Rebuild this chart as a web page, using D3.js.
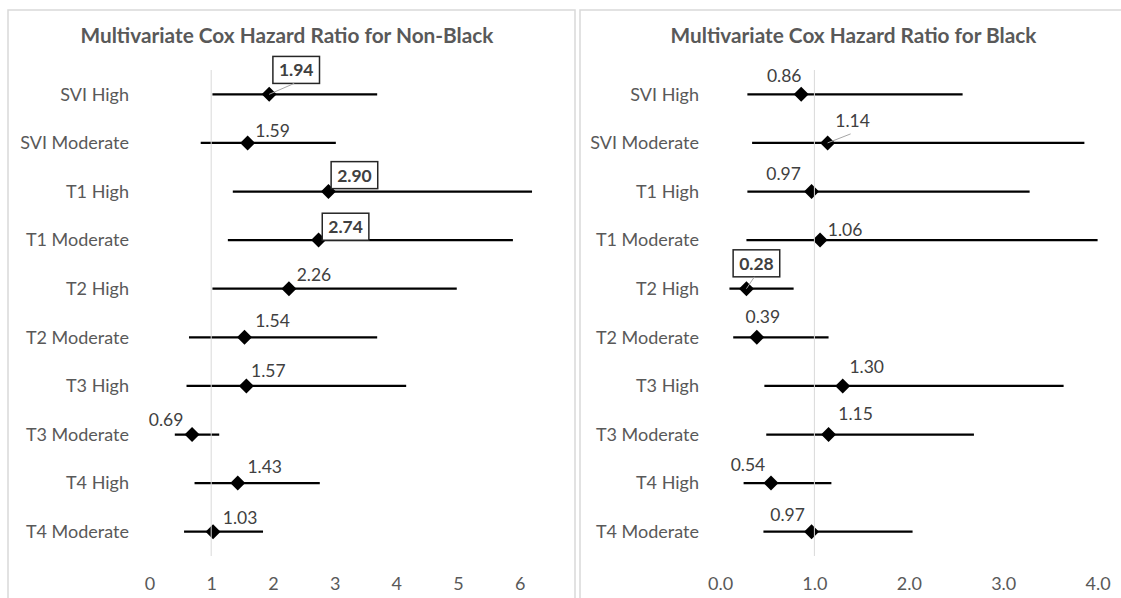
<!DOCTYPE html>
<html>
<head>
<meta charset="utf-8">
<script src="https://cdn.jsdelivr.net/npm/d3@7"></script>
<style>
  body { margin: 0; background: #fff; }
  svg { display: block; font-family: Lato, "Open Sans", sans-serif; }
</style>
</head>
<body>
<svg id="chart" width="1121" height="598"></svg>
<script>
// Categories (same for both panels, top to bottom)
const categories = ["SVI High", "SVI Moderate", "T1 High", "T1 Moderate", "T2 High",
  "T2 Moderate", "T3 High", "T3 Moderate", "T4 High", "T4 Moderate"];

// Non-Black: hazard ratio and 95% CI
const hrNonBlack = [1.94, 1.59, 2.90, 2.74, 2.26, 1.54, 1.57, 0.69, 1.43, 1.03];
const lowNonBlack = [1.02, 0.83, 1.35, 1.27, 1.02, 0.64, 0.60, 0.41, 0.73, 0.56];
const highNonBlack = [3.69, 3.02, 6.20, 5.89, 4.98, 3.69, 4.16, 1.13, 2.76, 1.84];
const sigNonBlack = [true, false, true, true, false, false, false, false, false, false];
const ticksNonBlack = [0, 1, 2, 3, 4, 5, 6];

// Black: hazard ratio and 95% CI
const hrBlack = [0.86, 1.14, 0.97, 1.06, 0.28, 0.39, 1.30, 1.15, 0.54, 0.97];
const lowBlack = [0.29, 0.34, 0.29, 0.28, 0.10, 0.14, 0.47, 0.49, 0.25, 0.46];
const highBlack = [2.57, 3.86, 3.28, 4.00, 0.78, 1.15, 3.64, 2.69, 1.18, 2.04];
const sigBlack = [false, false, false, false, true, false, false, false, false, false];
const ticksBlack = [0, 1, 2, 3, 4];

// where each data label sits relative to its marker: [dx, dy, leader line]
const nudgeNonBlack = [[27, -24, true], [25, -12], [26, -16], [27, -13], [25, -14],
  [28, -16], [22, -15], [-26, -15], [27, -16], [27, -14]];
const nudgeBlack = [[-17, -18], [25, -22, true], [-28, -18], [25, -10], [10, -25, true],
  [6, -20], [24, -19], [27, -21], [-23, -18], [-24, -17]];

const TEXT = "#595959";
const LABEL = "#404040";
const GRID = "#d9d9d9";
const dia = 7.5;

const svg = d3.select("#chart");

const drawPanel = p => {
  const g = svg.append("g");

  g.append("rect")
    .attr("x", p.box[0]).attr("y", p.box[1])
    .attr("width", p.box[2]).attr("height", p.box[3])
    .attr("fill", "#fff")
    .attr("stroke", GRID).attr("stroke-width", 1.5);

  g.append("text")
    .attr("x", p.titleX).attr("y", 36).attr("dy", "0.35em")
    .attr("text-anchor", "middle")
    .style("font-size", "20.8px").style("font-weight", "bold")
    .style("fill", TEXT)
    .text(p.title);

  const x = d3.scaleLinear().domain(p.domain).range(p.range);
  const y = d3.scaleBand().domain(categories).range([70, 556]);
  const cy = c => y(c) + y.bandwidth() / 2;

  const rows = categories.map((c, i) => ({
    cat: c, hr: p.hr[i], lo: p.lo[i], hi: p.hi[i], sig: p.sig[i], nudge: p.nudge[i]
  }));

  // category labels
  g.selectAll(".cat")
    .data(rows)
    .join("text")
    .attr("x", p.labelRight)
    .attr("y", d => cy(d.cat)).attr("dy", "0.35em")
    .attr("text-anchor", "end")
    .style("font-size", "18px").style("fill", TEXT)
    .text(d => d.cat);

  // x axis
  const axis = g.append("g")
    .attr("transform", "translate(0,570)")
    .call(d3.axisBottom(x).tickValues(p.ticks).tickSize(0).tickPadding(7).tickFormat(p.fmt));
  axis.select(".domain").remove();
  axis.selectAll(".tick text")
    .style("font-size", "18px").style("fill", TEXT)
    .style("font-family", "Lato, 'Open Sans', sans-serif");

  // confidence intervals
  g.selectAll(".ci")
    .data(rows)
    .join("line")
    .attr("x1", d => x(d.lo)).attr("x2", d => x(d.hi))
    .attr("y1", d => cy(d.cat)).attr("y2", d => cy(d.cat))
    .attr("stroke", "#000").attr("stroke-width", 2.25);

  // markers
  g.selectAll(".pt")
    .data(rows)
    .join("path")
    .attr("d", `M0,${-dia}L${dia},0L0,${dia}L${-dia},0Z`)
    .attr("transform", d => `translate(${x(d.hr)},${cy(d.cat)})`)
    .attr("fill", "#000");

  // reference line at HR = 1, drawn over the marks
  g.append("line")
    .attr("x1", x(1)).attr("x2", x(1))
    .attr("y1", 70).attr("y2", 556)
    .attr("stroke", GRID).attr("stroke-width", 1);

  // data labels
  rows.forEach(d => {
    const lx = x(d.hr) + d.nudge[0];
    const ly = cy(d.cat) + d.nudge[1];
    const t = g.append("text")
      .attr("x", lx).attr("y", ly).attr("dy", "0.35em")
      .attr("text-anchor", "middle")
      .style("font-size", "17.5px")
      .style("font-weight", d.sig ? "bold" : "normal")
      .style("fill", LABEL)
      .text(d.hr.toFixed(2));
    let bottom = ly + 13;
    if (d.sig) {
      const bb = t.node().getBBox();
      g.insert("rect", () => t.node())
        .attr("x", bb.x - 6).attr("y", bb.y - 3)
        .attr("width", bb.width + 12).attr("height", bb.height + 6)
        .attr("fill", "#fff")
        .attr("stroke", "#262626").attr("stroke-width", 1.5);
      bottom = bb.y + bb.height + 3;
    }
    if (d.nudge[2]) {
      g.insert("line", () => t.node())
        .attr("x1", lx - 2).attr("y1", bottom)
        .attr("x2", x(d.hr)).attr("y2", cy(d.cat))
        .attr("stroke", "#a6a6a6").attr("stroke-width", 1);
    }
  });
};

drawPanel({
  box: [8, 10, 567, 600],
  title: "Multivariate Cox Hazard Ratio for Non-Black",
  titleX: 287,
  domain: [0, 6], range: [149.5, 519.7],
  ticks: ticksNonBlack, fmt: d3.format("d"),
  labelRight: 129,
  hr: hrNonBlack, lo: lowNonBlack, hi: highNonBlack, sig: sigNonBlack, nudge: nudgeNonBlack
});

drawPanel({
  box: [580, 10, 560, 600],
  title: "Multivariate Cox Hazard Ratio for Black",
  titleX: 853.5,
  domain: [0, 4], range: [720, 1097.6],
  ticks: ticksBlack, fmt: d3.format(".1f"),
  labelRight: 699,
  hr: hrBlack, lo: lowBlack, hi: highBlack, sig: sigBlack, nudge: nudgeBlack
});
</script>
</body>
</html>
